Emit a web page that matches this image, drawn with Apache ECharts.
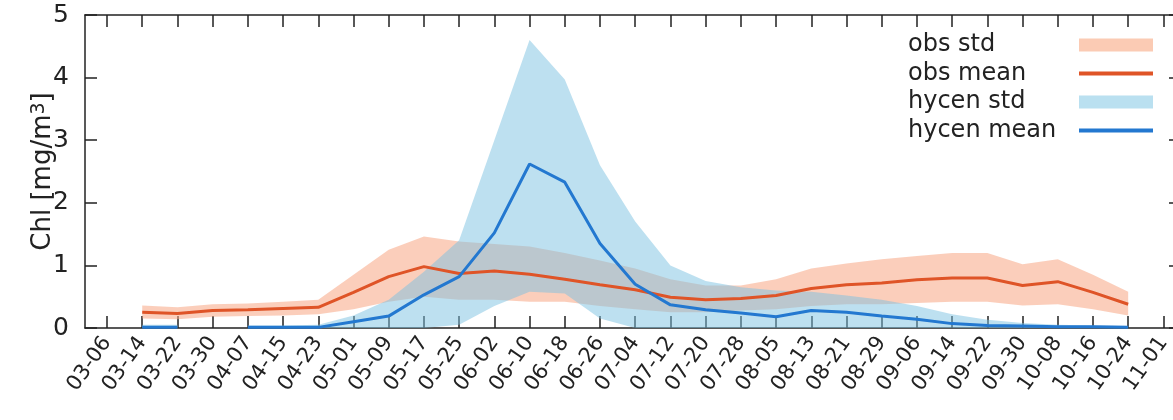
<!DOCTYPE html>
<html>
<head>
<meta charset="utf-8">
<script src="https://cdn.jsdelivr.net/npm/echarts@6/dist/echarts.min.js"></script>
<style>
html, body { margin: 0; padding: 0; background: #fff; }
#chl { width: 1173px; height: 420px; }
</style>
</head>
<body>
<div id="chl"></div>
<script>
var tickLabels = ['03-06', '03-14', '03-22', '03-30', '04-07', '04-15', '04-23', '05-01', '05-09', '05-17',
	'05-25', '06-02', '06-10', '06-18', '06-26', '07-04', '07-12', '07-20', '07-28', '08-05',
	'08-13', '08-21', '08-29', '09-06', '09-14', '09-22', '09-30', '10-08', '10-16', '10-24', '11-01'];

var dates = ['03-14', '03-22', '03-30', '04-07', '04-15', '04-23', '05-01', '05-09', '05-17', '05-25',
	'06-02', '06-10', '06-18', '06-26', '07-04', '07-12', '07-20', '07-28', '08-05', '08-13',
	'08-21', '08-29', '09-06', '09-14', '09-22', '09-30', '10-08', '10-16', '10-24'];

var obsMean = [0.25, 0.23, 0.28, 0.29, 0.31, 0.33, 0.57, 0.82, 0.98, 0.87,
	0.91, 0.86, 0.78, 0.69, 0.61, 0.49, 0.45, 0.47, 0.52, 0.63,
	0.69, 0.72, 0.77, 0.80, 0.80, 0.68, 0.74, 0.57, 0.38];
var obsHigh = [0.36, 0.33, 0.38, 0.39, 0.42, 0.45, 0.85, 1.25, 1.46, 1.38,
	1.34, 1.30, 1.20, 1.08, 0.95, 0.78, 0.68, 0.68, 0.78, 0.95,
	1.03, 1.10, 1.15, 1.20, 1.20, 1.02, 1.10, 0.85, 0.58];
var obsLow = [0.15, 0.14, 0.18, 0.19, 0.20, 0.22, 0.30, 0.42, 0.50, 0.45,
	0.45, 0.42, 0.42, 0.35, 0.30, 0.25, 0.25, 0.28, 0.30, 0.35,
	0.38, 0.38, 0.40, 0.42, 0.42, 0.36, 0.38, 0.30, 0.20];

var hycenMean = [0.01, 0.01, null, 0.01, 0.01, 0.01, 0.10, 0.19, 0.53, 0.82,
	1.52, 2.62, 2.33, 1.35, 0.70, 0.37, 0.29, 0.24, 0.18, 0.28,
	0.25, 0.19, 0.14, 0.07, 0.04, 0.03, 0.02, 0.02, 0.01];
var hycenHigh = [0.05, 0.05, null, 0.04, 0.04, 0.05, 0.20, 0.45, 0.90, 1.40,
	3.00, 4.60, 3.97, 2.60, 1.70, 1.00, 0.75, 0.65, 0.60, 0.58,
	0.52, 0.45, 0.35, 0.22, 0.13, 0.08, 0.05, 0.04, 0.03];
var hycenLow = [0, 0, null, 0, 0, 0, 0, 0, 0, 0.05,
	0.35, 0.58, 0.55, 0.15, 0, 0, 0, 0, 0, 0,
	0, 0, 0, 0, 0, 0, 0, 0, 0];

// days since 03-06, ticks every 8 days
function day(d) {
	return tickLabels.indexOf(d) * 8;
}
var tickDays = tickLabels.map(function (d) { return day(d); });

function pairs(vals) {
	return dates.map(function (d, i) { return [day(d), vals[i]]; });
}

// std band drawn as one polygon per run of non-null points
function band(name, lo, hi, fill, opacity) {
	return {
		name: name,
		type: 'custom',
		clip: true,
		itemStyle: { color: fill },
		encode: { x: 0, y: [1, 2] },
		data: dates.map(function (d, i) { return [day(d), lo[i], hi[i]]; }),
		renderItem: function (params, api) {
			if (params.dataIndex !== 0) return;
			var runs = [], cur = [];
			dates.forEach(function (d, i) {
				if (hi[i] == null) {
					if (cur.length) runs.push(cur);
					cur = [];
				} else {
					cur.push(i);
				}
			});
			if (cur.length) runs.push(cur);
			var kids = runs.filter(function (r) { return r.length > 1; }).map(function (r) {
				var top = r.map(function (i) { return api.coord([day(dates[i]), hi[i]]); });
				var bot = r.slice().reverse().map(function (i) { return api.coord([day(dates[i]), lo[i]]); });
				return {
					type: 'polygon',
					shape: { points: top.concat(bot) },
					style: { fill: fill, opacity: opacity }
				};
			});
			return { type: 'group', children: kids };
		}
	};
}

var dom = document.getElementById('chl');
var myChart = echarts.init(dom);

var axisLine = { onZero: false, lineStyle: { color: '#222', width: 1.5 } };
var tick = { inside: true, length: 12, lineStyle: { color: '#222', width: 1.5 } };

var option = {
	animation: false,
	textStyle: { fontFamily: 'DejaVu Sans' },
	grid: { left: 85, width: 1096, top: 15, bottom: 92, outerBoundsMode: 'none' },
	legend: {
		orient: 'vertical',
		left: 903,
		top: 28,
		align: 'right',
		itemWidth: 74,
		itemHeight: 13,
		itemGap: 4.5,
		formatter: '{t|{name}}',
		textStyle: {
			color: '#222',
			fontSize: 24,
			rich: { t: { width: 166, lineHeight: 28, align: 'left', fontSize: 24, color: '#222' } }
		},
		data: [
			{ name: 'obs std', icon: 'rect', itemStyle: { color: '#fbcbb4' } },
			{ name: 'obs mean', itemStyle: { opacity: 0 }, lineStyle: { width: 4 } },
			{ name: 'hycen std', icon: 'rect', itemStyle: { color: '#bae0f0' } },
			{ name: 'hycen mean', itemStyle: { opacity: 0 }, lineStyle: { width: 4 } }
		]
	},
	xAxis: [{
		type: 'value',
		position: 'bottom',
		min: -5,
		max: 244,
		axisLine: axisLine,
		axisTick: Object.assign({ customValues: tickDays }, tick),
		axisLabel: {
			customValues: tickDays,
			rotate: 55,
			fontSize: 21,
			color: '#222',
			margin: 11,
			formatter: function (v) { return tickLabels[Math.round(v / 8)]; }
		},
		splitLine: { show: false }
	}, {
		type: 'value',
		position: 'top',
		min: -5,
		max: 244,
		axisLine: axisLine,
		axisTick: Object.assign({ customValues: tickDays }, tick),
		axisLabel: { show: false },
		splitLine: { show: false }
	}],
	yAxis: [{
		type: 'value',
		position: 'left',
		min: 0,
		max: 5,
		interval: 1,
		name: 'Chl [mg/m{sup|3}]',
		nameLocation: 'middle',
		nameGap: 29,
		nameMoveOverlap: false,
		nameTextStyle: {
			fontSize: 26,
			color: '#222',
			rich: { sup: { fontSize: 19, verticalAlign: 'top', color: '#222' } }
		},
		axisLine: axisLine,
		axisTick: tick,
		axisLabel: { fontSize: 25, color: '#222', margin: 16 },
		splitLine: { show: false }
	}, {
		type: 'value',
		position: 'right',
		min: 0,
		max: 5,
		interval: 1,
		axisLine: axisLine,
		axisTick: tick,
		axisLabel: { show: false },
		splitLine: { show: false }
	}],
	series: [
		band('obs std', obsLow, obsHigh, '#f7a683', 0.55),
		{
			name: 'obs mean',
			type: 'line',
			symbol: 'none',
			itemStyle: { color: '#df5427' },
			lineStyle: { color: '#df5427', width: 3 },
			data: pairs(obsMean)
		},
		band('hycen std', hycenLow, hycenHigh, '#7bc1e1', 0.5),
		{
			name: 'hycen mean',
			type: 'line',
			symbol: 'none',
			itemStyle: { color: '#2378d0' },
			lineStyle: { color: '#2378d0', width: 3 },
			data: pairs(hycenMean)
		}
	]
};

if (option && typeof option === 'object') {
	myChart.setOption(option, true);
}
</script>
</body>
</html>
